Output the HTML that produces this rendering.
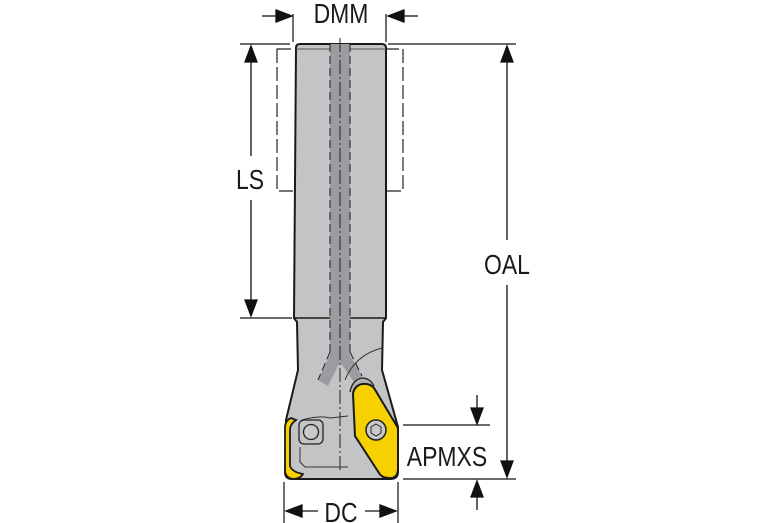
<!DOCTYPE html>
<html><head><meta charset="utf-8"><style>
html,body{margin:0;padding:0;background:#fff;}
svg{display:block;}
text{font-family:"Liberation Sans",sans-serif;fill:#1a1a1a;}
</style></head><body>
<svg width="767" height="523" viewBox="0 0 767 523" xmlns="http://www.w3.org/2000/svg">
<g stroke="#111" stroke-width="1.2" fill="none">
<line x1="240" y1="44" x2="290" y2="44"/>
<line x1="388" y1="44" x2="516" y2="44"/>
<line x1="240" y1="318" x2="292" y2="318"/>
<line x1="403" y1="425" x2="490" y2="425"/>
<line x1="403" y1="479" x2="516" y2="479"/>
<line x1="293" y1="14" x2="293" y2="42"/>
<line x1="386" y1="14" x2="386" y2="42"/>
<line x1="284" y1="482" x2="284" y2="523"/>
<line x1="398" y1="482" x2="398" y2="523"/>
</g>
<g stroke="#111" stroke-width="1.3" fill="#111">
<line x1="262" y1="16" x2="278" y2="16"/><path d="M292,16 L276,10 L276,22z"/>
<line x1="418" y1="16" x2="402" y2="16"/><path d="M388,16 L404,10 L404,22z"/>
<line x1="251" y1="58" x2="251" y2="156"/><path d="M251,46 L245,62 L257,62z"/>
<line x1="251" y1="200" x2="251" y2="304"/><path d="M251,316 L245,300 L257,300z"/>
<line x1="507" y1="58" x2="507" y2="240"/><path d="M507,46 L501,62 L513,62z"/>
<line x1="507" y1="285" x2="507" y2="464"/><path d="M507,477 L501,461 L513,461z"/>
<line x1="477" y1="395" x2="477" y2="410"/><path d="M477,424 L471,408 L483,408z"/>
<line x1="477" y1="496" x2="477" y2="510"/><path d="M477,481 L471,497 L483,497z"/>
<line x1="300" y1="511" x2="318" y2="511"/><path d="M286,511 L302,505 L302,517z"/>
<line x1="365" y1="511" x2="382" y2="511"/><path d="M396,511 L380,505 L380,517z"/>
</g>
<rect x="277" y="49" width="126" height="142" fill="none" stroke="#222" stroke-width="1.2" stroke-dasharray="14,4"/>
<path d="M296,48 Q296,44 300,44 L382,44 Q386,44 386,48 L386,318 L383,322 L382,370 L398,427 L398,472 Q398,479 390,479 L292,479 Q285,479 285,472 L286,420 L298,370 L297,322 L294,318 Z" fill="#c2c4c5" stroke="#1a1a1a" stroke-width="2"/>
<line x1="294" y1="318" x2="386" y2="318" stroke="#1a1a1a" stroke-width="1.5"/>
<line x1="296" y1="49" x2="386" y2="49" stroke="#555" stroke-width="1"/>
<path d="M330,44 L350,44 L350,355 L362,376 L354,382 L340,362 L328,386 L318,380 L330,355 Z" fill="#9a9c9f"/>
<g stroke="#222" stroke-width="1" stroke-dasharray="8,4" fill="none">
<line x1="330" y1="44" x2="330" y2="352"/><line x1="350" y1="44" x2="350" y2="352"/>
<path d="M330,352 L318,380"/><path d="M350,352 L362,376"/>
</g>
<line x1="340" y1="38" x2="340" y2="470" stroke="#222" stroke-width="1" stroke-dasharray="14,3,2,3"/>
<path d="M345,380 Q355,355 382,348" fill="none" stroke="#333" stroke-width="1"/>
<path d="M302,420 Q320,415 330,418 L348,416" fill="none" stroke="#333" stroke-width="1"/>
<path d="M300,447 L300,462 L305,467 L348,467" fill="none" stroke="#333" stroke-width="1"/>
<rect x="299" y="420" width="24" height="24" rx="5" fill="#c2c4c5" stroke="#222" stroke-width="1.3"/>
<circle cx="311" cy="432" r="7.5" fill="#c8cacb" stroke="#222" stroke-width="1.3"/>
<path d="M350,392 Q352,380 362,378 Q370,378 374,386" fill="#b0b2b4" stroke="#222" stroke-width="1.3"/>
<path d="M353,394 Q354,386 362,384 Q370,383 374,388 L398,428 L398,470 Q397,479 389,478 Q382,478 379,473 L355,436 Z" fill="#f7d000" stroke="#1a1a1a" stroke-width="2"/>
<circle cx="376" cy="430" r="10" fill="#c8cacb" stroke="#222" stroke-width="1.5"/>
<path d="M376,424 L381,427 L381,433 L376,436 L371,433 L371,427Z" fill="none" stroke="#222" stroke-width="1"/>
<path d="M291,418 L296,420 Q290,424 290,430 L290,466 Q292,472 303,474 Q300,479 293,479 Q285,478 285,470 L285,426 Q286,420 291,418 Z" fill="#f7d000" stroke="#1a1a1a" stroke-width="1.8"/>
<text x="341" y="23" font-size="28" text-anchor="middle" transform="translate(341 0) scale(0.82 1) translate(-341 0)">DMM</text>
<text x="250" y="189" font-size="28" text-anchor="middle" transform="translate(250 0) scale(0.82 1) translate(-250 0)">LS</text>
<text x="507" y="274" font-size="28" text-anchor="middle" transform="translate(507 0) scale(0.82 1) translate(-507 0)">OAL</text>
<text x="447" y="466" font-size="28" text-anchor="middle" transform="translate(447 0) scale(0.82 1) translate(-447 0)">APMXS</text>
<text x="341" y="522" font-size="28" text-anchor="middle" transform="translate(341 0) scale(0.82 1) translate(-341 0)">DC</text>
</svg>
</body></html>
